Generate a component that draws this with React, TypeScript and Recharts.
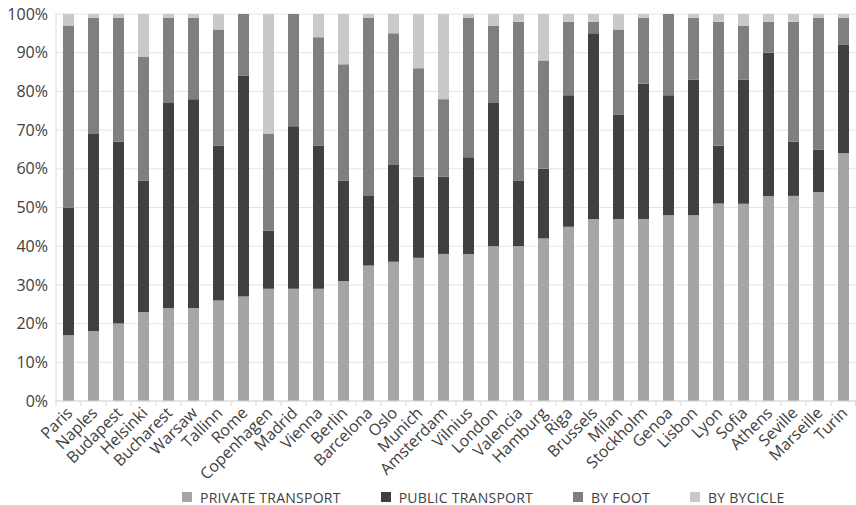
import { Bar, BarChart, CartesianGrid, Legend, XAxis, YAxis } from "recharts";

const cities = [
  "Paris", "Naples", "Budapest", "Helsinki", "Bucharest", "Warsaw", "Tallinn", "Rome",
  "Copenhagen", "Madrid", "Vienna", "Berlin", "Barcelona", "Oslo", "Munich", "Amsterdam",
  "Vilnius", "London", "Valencia", "Hamburg", "Riga", "Brussels", "Milan", "Stockholm",
  "Genoa", "Lisbon", "Lyon", "Sofia", "Athens", "Seville", "Marseille", "Turin",
];

const privateTransport = [17, 18, 20, 23, 24, 24, 26, 27, 29, 29, 29, 31, 35, 36, 37, 38, 38, 40, 40, 42, 45, 47, 47, 47, 48, 48, 51, 51, 53, 53, 54, 64];
const publicTransport = [33, 51, 47, 34, 53, 54, 40, 57, 15, 42, 37, 26, 18, 25, 21, 20, 25, 37, 17, 18, 34, 48, 27, 35, 31, 35, 15, 32, 37, 14, 11, 28];
const byFoot = [47, 30, 32, 32, 22, 21, 30, 16, 25, 29, 28, 30, 46, 34, 28, 20, 36, 20, 41, 28, 19, 3, 22, 17, 21, 16, 32, 14, 8, 31, 34, 7];
const byBicycle = [3, 1, 1, 11, 1, 1, 4, 0, 31, 0, 6, 13, 1, 5, 14, 22, 1, 3, 2, 12, 2, 2, 4, 1, 0, 1, 2, 3, 2, 2, 1, 1];

const yTicks = [0, 10, 20, 30, 40, 50, 60, 70, 80, 90, 100];

const series = [
  { key: "private", name: "PRIVATE TRANSPORT", color: "#a5a5a5" },
  { key: "public", name: "PUBLIC TRANSPORT", color: "#404040" },
  { key: "foot", name: "BY FOOT", color: "#7f7f7f" },
  { key: "bike", name: "BY BYCICLE", color: "#c9c9c9" },
];

const data = cities.map((city, i) => ({
  city,
  private: privateTransport[i],
  public: publicTransport[i],
  foot: byFoot[i],
  bike: byBicycle[i],
}));

const font = "'Open Sans', sans-serif";
const band = 800 / cities.length;

// rotated city label plus the small divider tick Excel puts between categories
function CityTick({ x, y, payload, index }: any) {
  const axisY = y - 8;
  const tx = x + 5;
  const ty = y + 5;
  return (
    <g>
      <line x1={x - band / 2} x2={x - band / 2} y1={axisY} y2={axisY + 5} stroke="#d9d9d9" />
      {index === cities.length - 1 && (
        <line x1={x + band / 2 - 0.5} x2={x + band / 2 - 0.5} y1={axisY} y2={axisY + 5} stroke="#d9d9d9" />
      )}
      <text
        x={tx}
        y={ty}
        transform={`rotate(-45, ${tx}, ${ty})`}
        textAnchor="end"
        fontSize={16}
        fontFamily={font}
        fill="#404040"
      >
        {payload.value}
      </text>
    </g>
  );
}

function LegendRow() {
  return (
    <div
      style={{
        display: "flex",
        height: 40,
        boxSizing: "border-box",
        paddingTop: 24,
        paddingLeft: 182,
        gap: 40,
        fontFamily: font,
        fontSize: 14,
        letterSpacing: 0.25,
        lineHeight: "19px",
        color: "#404040",
      }}
    >
      {series.map((s) => (
        <div key={s.key} style={{ display: "flex", alignItems: "center" }}>
          <span style={{ width: 10, height: 10, background: s.color, marginRight: 8, display: "inline-block" }} />
          <span>{s.name}</span>
        </div>
      ))}
    </div>
  );
}

export default function App() {
  return (
    <div style={{ position: "absolute", left: 0, top: 0, background: "#fff" }}>
      <BarChart
        width={856}
        height={505}
        data={data}
        margin={{ top: 14, right: 0, left: 0, bottom: 0 }}
        barSize={11}
      >
        <CartesianGrid stroke="#e4e4e4" vertical={false} />
        <XAxis
          dataKey="city"
          interval={0}
          height={64}
          tick={<CityTick />}
          tickLine={false}
          axisLine={{ stroke: "#d9d9d9" }}
        />
        <YAxis
          domain={[0, 100]}
          ticks={yTicks}
          width={56}
          tickFormatter={(v) => `${v}%`}
          tickLine={false}
          axisLine={{ stroke: "#d9d9d9" }}
          tick={{ fontSize: 16, fontFamily: font, fill: "#404040" }}
        />
        <Legend verticalAlign="bottom" height={40} content={() => <LegendRow />} />
        {series.map((s) => (
          <Bar
            key={s.key}
            dataKey={s.key}
            name={s.name}
            stackId="a"
            fill={s.color}
            isAnimationActive={false}
          />
        ))}
      </BarChart>
    </div>
  );
}
